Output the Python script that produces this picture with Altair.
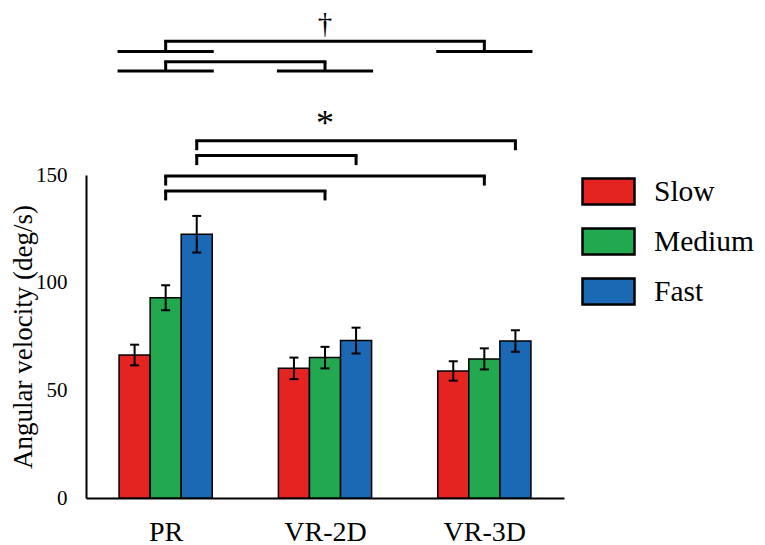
import altair as alt
import pandas as pd

# ---------------- data ----------------
GROUPS = ["PR", "VR-2D", "VR-3D"]
SPEEDS = ["Slow", "Medium", "Fast"]
COLORS = ["#E32421", "#22A84E", "#1B69B4"]

MEAN_SLOW = [66.4, 60.2, 59.0]
MEAN_MEDIUM = [93.0, 65.2, 64.6]
MEAN_FAST = [122.5, 73.1, 72.9]
SE_SLOW = [4.8, 5.0, 4.5]
SE_MEDIUM = [5.8, 5.0, 4.9]
SE_FAST = [8.5, 6.0, 5.0]

# post-hoc comparisons (*): (group, speed) -> (group, speed), bracket level
STAR_FROM = [("PR", "Fast"), ("PR", "Fast"), ("PR", "Medium"), ("PR", "Medium")]
STAR_TO = [("VR-3D", "Fast"), ("VR-2D", "Fast"), ("VR-3D", "Medium"), ("VR-2D", "Medium")]
STAR_LEVEL = [165.9, 159.0, 149.5, 142.6]
STAR_LABEL = "*"

# main-effect comparisons (†): group -> group, bracket level, underline level
DAG_FROM = ["PR", "PR"]
DAG_TO = ["VR-3D", "VR-2D"]
DAG_LEVEL = [212.1, 202.6]
DAG_UNDER = [207.3, 198.3]
DAG_LABEL = "\u2020"

Y_TICKS = [0, 50, 100, 150]
Y_TITLE = "Angular velocity (deg/s)"

# ---------------- derived tables ----------------
BAR_W = 0.195
LEG = 4.4
means = {"Slow": MEAN_SLOW, "Medium": MEAN_MEDIUM, "Fast": MEAN_FAST}
ses = {"Slow": SE_SLOW, "Medium": SE_MEDIUM, "Fast": SE_FAST}


def center(g, s=None):
    gi = GROUPS.index(g) + 0.5
    if s is None:
        return gi
    return gi + (SPEEDS.index(s) - 1) * BAR_W


rows = []
for s in SPEEDS:
    for gi, g in enumerate(GROUPS):
        c = center(g, s)
        m = means[s][gi]
        e = ses[s][gi]
        rows.append(dict(group=g, speed=s, mean=m, se=e, xc=c,
                         x0=c - BAR_W / 2, x1=c + BAR_W / 2, lo=m - e, hi=m + e))
bars_df = pd.DataFrame(rows)

hlines, legs = [], []
for (fg, fs), (tg, ts), lv in zip(STAR_FROM, STAR_TO, STAR_LEVEL):
    a, b = center(fg, fs), center(tg, ts)
    hlines.append(dict(xa=a, xb=b, y=lv))
    legs.append(dict(x=a, ya=lv - LEG, yb=lv))
    legs.append(dict(x=b, ya=lv - LEG, yb=lv))
for fg, tg, lv, ul in zip(DAG_FROM, DAG_TO, DAG_LEVEL, DAG_UNDER):
    a, b = center(fg), center(tg)
    hlines.append(dict(xa=a, xb=b, y=lv))
    legs.append(dict(x=a, ya=ul, yb=lv))
    legs.append(dict(x=b, ya=ul, yb=lv))
    for g in (fg, tg):
        c = center(g)
        hlines.append(dict(xa=c - 1.5 * BAR_W, xb=c + 1.5 * BAR_W, y=ul))
hl_df = pd.DataFrame(hlines).drop_duplicates()
leg_df = pd.DataFrame(legs)

labels_df = pd.DataFrame([
    dict(x=1.5, y=215.9, t=DAG_LABEL, size=29),
    dict(x=1.5, y=168.8, t=STAR_LABEL, size=36),
])

FONT = "Liberation Serif"
xs = alt.Scale(domain=[0, 3], nice=False, zero=False, padding=0)
ys = alt.Scale(domain=[0, 150], nice=False, padding=0)

label_expr = "[" + ",".join("'%s'" % g for g in GROUPS) + "][floor(datum.value)]"

x_axis = alt.Axis(values=[0.5, 1.5, 2.5], labelExpr=label_expr, title=None,
                  ticks=False, grid=False, domainColor="black", domainWidth=2,
                  labelFont=FONT, labelFontSize=28, labelColor="black", labelPadding=20)
y_axis = alt.Axis(values=Y_TICKS, title=Y_TITLE, ticks=False, grid=False,
                  domainColor="black", domainWidth=2, labelFont=FONT, labelFontSize=21,
                  labelColor="black", labelPadding=19, titleFont=FONT, titleFontSize=27,
                  titleFontWeight="normal", titleColor="black", titlePadding=-2)

legend = alt.Legend(orient="none", legendX=495, legendY=-11, title=None,
                    symbolType="M-1,-0.5L1,-0.5L1,0.5L-1,0.5Z", symbolSize=2704,
                    symbolStrokeColor="black", symbolStrokeWidth=2.5, symbolOpacity=1,
                    labelFont=FONT, labelFontSize=29.5, labelColor="black", labelOffset=18,
                    labelLimit=300, rowPadding=4, padding=0)

bars = alt.Chart(bars_df).mark_bar(stroke="black", strokeWidth=1.5).encode(
    x=alt.X("x0:Q", scale=xs, axis=x_axis),
    x2="x1:Q",
    y=alt.Y("mean:Q", scale=ys, axis=y_axis),
    y2=alt.datum(0),
    fill=alt.Fill("speed:N", scale=alt.Scale(domain=SPEEDS, range=COLORS), legend=legend),
)

err = alt.Chart(bars_df).mark_rule(color="black", strokeWidth=2).encode(
    x="xc:Q", y="lo:Q", y2="hi:Q")
cap_hi = alt.Chart(bars_df).mark_tick(orient="horizontal", size=9, thickness=2,
                                       color="black", opacity=1).encode(x="xc:Q", y="hi:Q")
cap_lo = alt.Chart(bars_df).mark_tick(orient="horizontal", size=9, thickness=2,
                                       color="black", opacity=1).encode(x="xc:Q", y="lo:Q")

hl = alt.Chart(hl_df).mark_rule(color="black", strokeWidth=3, strokeCap="square").encode(
    x="xa:Q", x2="xb:Q", y="y:Q")
lg = alt.Chart(leg_df).mark_rule(color="black", strokeWidth=3).encode(
    x="x:Q", y="ya:Q", y2="yb:Q")

txt = alt.Chart(labels_df).mark_text(font=FONT, color="black", baseline="alphabetic",
                                     align="center").encode(
    x="x:Q", y="y:Q", text="t:N", size=alt.Size("size:Q", scale=None, legend=None))

chart = alt.layer(bars, hl, lg, err, cap_hi, cap_lo, txt).properties(
    width=478, height=323,
    autosize=alt.AutoSizeParams(type="none"),
    padding={"left": 78, "top": 167, "right": 193, "bottom": 50},
).configure(
    background="white", font=FONT
).configure_axis(
    labelFont=FONT, titleFont=FONT
).configure_legend(
    labelFont=FONT
).configure_view(stroke=None)

chart.save("out.html", embed_options={"renderer": "svg", "actions": False})
